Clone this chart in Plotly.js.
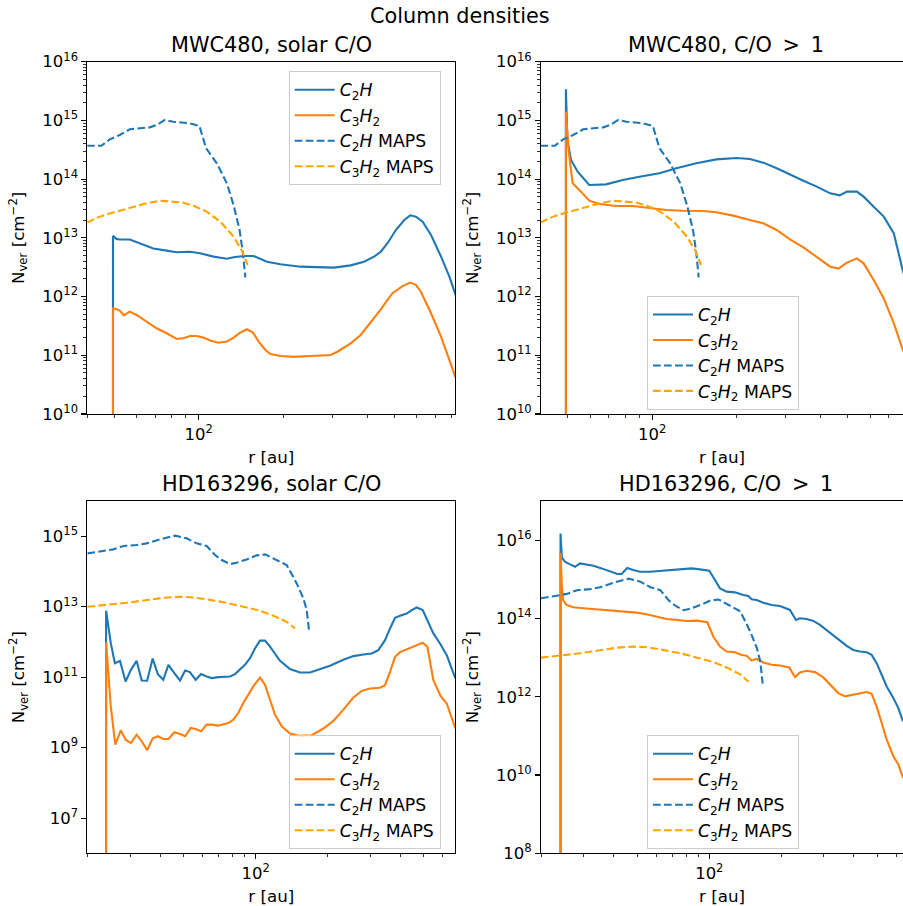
<!DOCTYPE html>
<html>
<head>
<meta charset="utf-8">
<script src="https://cdn.plot.ly/plotly-3.0.1.min.js"></script>
<style>html,body{margin:0;padding:0;background:#fff;overflow:hidden}#chart{width:903px;height:906px}</style>
</head>
<body>
<div id="chart"></div>
<script>
// ---------------- data ----------------
const panelTitles = ["MWC480, solar C/O", "MWC480, C/O \u2009&gt;\u2009 1", "HD163296, solar C/O", "HD163296, C/O \u2009&gt;\u2009 1"];
const seriesNames = ["<i>C</i><sub>2</sub><i>H</i>", "<i>C</i><sub>3</sub><i>H</i><sub>2</sub>", "<i>C</i><sub>2</sub><i>H</i> MAPS", "<i>C</i><sub>3</sub><i>H</i><sub>2</sub> MAPS"];

// MAPS observations, MWC480
const mwcMapsC2H_r = [39.9, 44.9, 48.1, 52.2, 56.7, 61.6, 66.9, 70.7, 75.7, 81.1, 86.9, 93.1, 100.6, 106.2, 116, 126, 133.1, 139.9, 143.8, 146.6];
const mwcMapsC2H_N = [3.7e14, 3.7e14, 4.76e14, 5.64e14, 7.05e14, 7.33e14, 7.62e14, 8.35e14, 1.02e15, 9.5e14, 9.27e14, 8.9e14, 8.03e14, 3.35e14, 1.86e14, 8.5e13, 3.63e13, 1.36e13, 5.46e12, 2.13e12];
const mwcMapsC3H2_r = [39.9, 44.3, 50.8, 58.3, 65.1, 72.7, 78.9, 88.1, 95.7, 106.8, 119.3, 133.1, 142.6, 149.4];
const mwcMapsC3H2_N = [1.82e13, 2.3e13, 2.8e13, 3.4e13, 3.87e13, 4.3e13, 4.13e13, 3.97e13, 3.53e13, 2.8e13, 1.89e13, 1.05e13, 6.05e12, 3.45e12];

// MWC480 solar C/O model
const mwcSolarC2H_r = [49.4, 49.4, 50.8, 52.2, 56.7, 61.6, 68.8, 76.8, 83.4, 93.1, 101.1, 112.9, 126, 133.1, 144.6, 157, 163.6, 175.3, 195.7, 230.8, 304, 348.7, 389, 422.7, 446.7, 472, 505.6, 541.7, 569, 596.4, 630, 675, 733, 785, 831.8];
const mwcSolarC2H_N = [1e3, 1.08e13, 9.6e12, 9.4e12, 9.4e12, 8.1e12, 6.6e12, 6.05e12, 5.7e12, 5.8e12, 5.46e12, 4.79e12, 4.42e12, 4.66e12, 4.91e12, 4.91e12, 4.48e12, 3.93e12, 3.54e12, 3.23e12, 3.11e12, 3.4e12, 3.93e12, 4.79e12, 5.8e12, 8.1e12, 1.36e13, 2.01e13, 2.42e13, 2.3e13, 1.89e13, 1.12e13, 4.79e12, 2.18e12, 9.7e11];
const mwcSolarC3H2_r = [49.4, 49.4, 50.8, 52.2, 54, 56.7, 60, 65.1, 70.7, 76.8, 83.4, 88.1, 93.1, 98.4, 103.9, 109.8, 117.6, 126, 133.1, 140.6, 148.6, 156.2, 163.6, 173, 180.2, 195.7, 218.4, 250.6, 295.8, 312.5, 348.7, 378.6, 411.3, 446.7, 472, 492, 534.2, 569, 596.4, 621, 675, 733, 831.8];
const mwcSolarC3H2_N = [1e3, 6.3e11, 6.07e11, 5.77e11, 4.8e11, 5.54e11, 4.86e11, 3.74e11, 2.88e11, 2.37e11, 1.9e11, 1.95e11, 2.13e11, 2.13e11, 2.0e11, 1.78e11, 1.64e11, 1.71e11, 2.0e11, 2.43e11, 2.77e11, 2.43e11, 1.71e11, 1.23e11, 1.05e11, 9.75e10, 9.4e10, 9.75e10, 1.01e11, 1.15e11, 1.6e11, 2.22e11, 3.6e11, 6.07e11, 8.75e11, 1.14e12, 1.51e12, 1.73e12, 1.58e12, 1.21e12, 5.2e11, 2.08e11, 3.8e10];

// MWC480 C/O > 1 model
const mwcHighC2H_r = [49.2, 49.2, 49.8, 51.3, 54.2, 59.6, 68.4, 78.5, 90.1, 106.2, 121.9, 143.8, 169.6, 200, 223.3, 249.3, 278.3, 310.6, 346.7, 387, 432.3, 467, 495.8, 538.5, 569, 618, 671.4, 729.4, 789.3];
const mwcHighC2H_N = [1e3, 3.38e15, 4.64e14, 2.12e14, 1.34e14, 7.94e13, 8.15e13, 9.67e13, 1.1e14, 1.26e14, 1.53e14, 1.86e14, 2.17e14, 2.29e14, 2.2e14, 1.91e14, 1.53e14, 1.18e14, 9.4e13, 7.45e13, 5.73e13, 5.3e13, 6.12e13, 6.12e13, 5.03e13, 3.4e13, 2.3e13, 1.19e13, 2.49e12];
const mwcHighC3H2_r = [49.2, 49.2, 50.3, 52, 55.7, 59.6, 64.8, 74.3, 85.3, 97.8, 112.2, 128.8, 151.9, 169.6, 194.6, 223.3, 249.3, 278.3, 310.6, 346.7, 387, 432.3, 463.1, 495.8, 538.5, 569, 618, 671.4, 729.4, 789.3];
const mwcHighC3H2_N = [1e3, 1.41e15, 3.13e14, 8.5e13, 6.12e13, 4.3e13, 3.77e13, 3.49e13, 3.49e13, 3.27e13, 2.98e13, 2.9e13, 2.87e13, 2.72e13, 2.39e13, 2.01e13, 1.77e13, 1.36e13, 9.44e12, 6.9e12, 4.79e12, 3.23e12, 2.99e12, 3.78e12, 4.48e12, 3.68e12, 1.92e12, 9.3e11, 3.5e11, 1.15e11];

// MAPS observations, HD163296
const hdMapsC2H_r = [19.9, 22.5, 25.5, 28.1, 31.9, 35.1, 39.9, 46.1, 51.6, 56.8, 62.5, 67.7, 72.2, 78.2, 83.3, 91.7, 101, 109.4, 114.7, 122.3, 134.6, 148.2, 158, 163.1, 166.8];
const hdMapsC2H_N = [3.26e14, 3.64e14, 4.24e14, 5.27e14, 5.62e14, 6.27e14, 8.15e14, 1.04e15, 8.7e14, 6.27e14, 5.27e14, 2.92e14, 2.11e14, 1.62e14, 1.77e14, 2.2e14, 2.86e14, 3.05e14, 2.62e14, 2.11e14, 1.52e14, 4.58e13, 1.72e13, 8.0e12, 2.16e12];
const hdMapsC3H2_r = [19.9, 23.9, 29, 35.1, 41.2, 48.4, 55, 62.5, 75.7, 91.7, 104.3, 118.5, 134.6, 145.8];
const hdMapsC3H2_N = [9.95e12, 1.11e13, 1.29e13, 1.54e13, 1.79e13, 1.91e13, 1.83e13, 1.61e13, 1.29e13, 9.5e12, 7.66e12, 5.52e12, 3.73e12, 2.41e12];

// HD163296 solar C/O model
const hdSolarC2H_r = [23.8, 23.8, 24.9, 25.9, 27.2, 28.7, 30.2, 31.9, 33.5, 35.3, 37.2, 39.1, 41.2, 43.3, 45.8, 48.4, 50.8, 53.2, 56.2, 59.2, 62.5, 65.6, 69.9, 74.5, 78.2, 82, 86, 90.2, 94.7, 99.4, 104.2, 109.3, 114.7, 120.3, 126.3, 139, 153, 168.4, 185.4, 204, 231.9, 255.3, 281, 304.3, 324.3, 345.9, 362.9, 380.7, 399.5, 425.9, 446.7, 468.6, 496.4, 524.2, 550, 586.1, 625.2, 679.2];
const hdSolarC2H_N = [1e2, 7.7e12, 9.2e11, 2.49e11, 2.9e11, 7.5e10, 1.61e11, 2.9e11, 8.05e10, 7.9e10, 3.37e11, 1.22e11, 8.4e10, 2.23e11, 1.3e11, 8.05e10, 1.55e11, 1.39e11, 8.4e10, 1.22e11, 1.04e11, 9.4e10, 1.0e11, 1.04e11, 1.04e11, 1.22e11, 1.61e11, 2.23e11, 3.45e11, 6.6e11, 1.09e12, 1.09e12, 7.4e11, 4.77e11, 2.91e11, 1.69e11, 1.36e11, 1.36e11, 1.65e11, 2.1e11, 3.1e11, 3.95e11, 4.4e11, 4.7e11, 5.85e11, 1.12e12, 2.41e12, 4.85e12, 5.5e12, 6.4e12, 8.0e12, 9.5e12, 8.0e12, 3.73e12, 1.74e12, 9.0e11, 4.2e11, 9.2e10];
const hdSolarC3H2_r = [23.8, 23.8, 24.9, 26, 27.4, 28.7, 30.2, 31.9, 33.5, 35.3, 37.2, 39.1, 41.2, 43.3, 45.8, 48.4, 50.8, 53.6, 56.2, 59.2, 62.5, 65.6, 69.5, 73.3, 76.9, 80.7, 84.6, 88.8, 93.1, 97.7, 104.2, 109.3, 114.7, 120.3, 128.3, 139, 153, 171.2, 191.4, 210.7, 231.9, 255.3, 276.6, 299.6, 329.6, 345.9, 362.9, 380.7, 399.5, 425.9, 461.2, 496.4, 519.2, 550, 590, 625.2, 679.2];
const hdSolarC3H2_N = [1e2, 9.6e11, 1.48e10, 1.22e9, 3.1e9, 1.68e9, 1.35e9, 2.33e9, 1.51e9, 8.4e8, 1.8e9, 2.1e9, 1.76e9, 1.76e9, 2.72e9, 2.44e9, 2.1e9, 3.6e9, 3.38e9, 2.9e9, 4.48e9, 4.48e9, 4.2e9, 4.68e9, 4.99e9, 6.2e9, 9.6e9, 1.84e10, 3.16e10, 5.45e10, 9.8e10, 6.07e10, 2.28e10, 8.6e9, 4.05e9, 2.51e9, 2.15e9, 2.25e9, 3.48e9, 5.74e9, 1.2e10, 2.64e10, 4.09e10, 4.76e10, 4.98e10, 5.93e10, 1.42e11, 3.78e11, 5.13e11, 6.1e11, 7.6e11, 9.45e11, 7.27e11, 8.2e10, 2.88e10, 1.79e10, 3.48e9];

// HD163296 C/O > 1 model
const hdHighC2H_r = [24.0, 24.0, 24.3, 25.0, 26.3, 27.6, 28.9, 30.8, 32.9, 35.6, 38.6, 41.4, 43.1, 45.5, 48.2, 51.4, 56.6, 62.3, 70.8, 77.9, 84.4, 91.4, 100, 105.6, 110.8, 118.1, 127.9, 138.6, 145.4, 150.1, 157.5, 167.9, 181.9, 197, 206.7, 216.8, 229.6, 238.6, 254.4, 271.3, 289.1, 308.3, 328.6, 350.4, 373.4, 398.1, 424.4, 452.4, 474.6, 498.1, 522.6, 548.3, 584.5, 613.2, 641.2];
const hdHighC2H_N = [1e3, 1.48e16, 3.62e15, 2.81e15, 2.4e15, 2.09e15, 2.54e15, 2.4e15, 2.22e15, 1.9e15, 1.56e15, 1.36e15, 1.36e15, 1.94e15, 1.72e15, 1.56e15, 1.56e15, 1.62e15, 1.72e15, 1.82e15, 1.9e15, 1.79e15, 1.65e15, 9.57e14, 5.87e14, 4.83e14, 4.64e14, 3.97e14, 3.74e14, 3.08e14, 2.96e14, 2.53e14, 2.21e14, 2.08e14, 1.89e14, 1.65e14, 9.16e13, 1.01e14, 9.7e13, 8.63e13, 6.83e13, 5.1e13, 3.8e13, 2.72e13, 1.99e13, 1.57e13, 1.43e13, 1.37e13, 1.17e13, 7.2e12, 3.64e12, 1.83e12, 9.25e11, 5.14e11, 2.35e11];
const hdHighC3H2_r = [24.0, 24.0, 24.3, 24.6, 25.4, 27.1, 29.9, 33.9, 38.6, 43.8, 49.8, 54.8, 60.3, 66.4, 73.1, 80.4, 88.6, 98.1, 103.9, 110.8, 118.1, 127.9, 136.4, 143.1, 150.1, 157.5, 167.9, 181.9, 197, 215.4, 227.5, 238.6, 254.4, 275.6, 298.5, 323.4, 344.7, 367.5, 398.1, 424.4, 452.4, 474.6, 498.1, 522.6, 548.3, 584.5, 613.2, 641.2];
const hdHighC3H2_N = [1e3, 4.75e15, 6.47e14, 2.96e14, 2.21e14, 1.92e14, 1.82e14, 1.71e14, 1.65e14, 1.55e14, 1.41e14, 1.28e14, 1.11e14, 9.7e13, 9.16e13, 8.63e13, 8.8e13, 7.98e13, 3.45e13, 1.92e13, 1.43e13, 1.37e13, 1.17e13, 1.11e13, 8.43e12, 9.3e12, 7.5e12, 6.53e12, 6.28e12, 5.59e12, 3.17e12, 4.17e12, 4.59e12, 4.25e12, 3.11e12, 1.83e12, 1.24e12, 1.02e12, 1.12e12, 1.24e12, 1.32e12, 1.19e12, 5.67e11, 2.13e11, 8.02e10, 3.02e10, 1.85e10, 8.47e9];

// ---------------- layout helpers ----------------
const W = 903, H = 906;
const FONT = "DejaVu Sans, Liberation Sans, sans-serif";
const BLUE = "#1f77b4", ORANGE = "#ff7f0e", MAPSORANGE = "#ffa500";
const DASH = "7.7px,3.3px";
const fx = p => p / W;
const fy = p => 1 - p / H;

function minorLog(d0, d1) {
  const v = [];
  for (let d = d0; d < d1; d++) for (let k = 2; k <= 9; k++) v.push(k * Math.pow(10, d));
  return v;
}
function majorLog(exps) {
  return { tickvals: exps.map(e => Math.pow(10, e)), ticktext: exps.map(e => "10<sup>" + e + "</sup>") };
}
function range(a, b, s) { const r = []; for (let v = a; v <= b; v += s) r.push(v); return r; }

const panels = [
  { sets: [[mwcSolarC2H_r, mwcSolarC2H_N], [mwcSolarC3H2_r, mwcSolarC3H2_N], [mwcMapsC2H_r, mwcMapsC2H_N], [mwcMapsC3H2_r, mwcMapsC3H2_N]] },
  { sets: [[mwcHighC2H_r, mwcHighC2H_N], [mwcHighC3H2_r, mwcHighC3H2_N], [mwcMapsC2H_r, mwcMapsC2H_N], [mwcMapsC3H2_r, mwcMapsC3H2_N]] },
  { sets: [[hdSolarC2H_r, hdSolarC2H_N], [hdSolarC3H2_r, hdSolarC3H2_N], [hdMapsC2H_r, hdMapsC2H_N], [hdMapsC3H2_r, hdMapsC3H2_N]] },
  { sets: [[hdHighC2H_r, hdHighC2H_N], [hdHighC3H2_r, hdHighC3H2_N], [hdMapsC2H_r, hdMapsC2H_N], [hdMapsC3H2_r, hdMapsC3H2_N]] }
];
const styles = [
  { color: BLUE, dash: "solid" },
  { color: ORANGE, dash: "solid" },
  { color: BLUE, dash: DASH },
  { color: MAPSORANGE, dash: DASH }
];
const legendIds = ["legend", "legend2", "legend3", "legend4"];

const traces = [];
panels.forEach((p, i) => {
  const suf = i === 0 ? "" : String(i + 1);
  p.sets.forEach((s, j) => {
    traces.push({
      type: "scatter", mode: "lines",
      x: s[0], y: s[1],
      xaxis: "x" + suf, yaxis: "y" + suf,
      name: seriesNames[j],
      legend: legendIds[i],
      legendgroup: "g" + i + "_" + j,
      line: { color: styles[j].color, dash: styles[j].dash, width: 2.1 },
      hoverinfo: "skip"
    });
  });
});

// panel geometry (px)
const LEFT = [87.3, 455.3], RIGHT = [541, 903];
const TOP = [61.7, 414], BOT = [501, 853.3];

const tickFont = { family: FONT, size: 16.5, color: "#000" };
const titleFont = { family: FONT, size: 16.7, color: "#000" };

function xAxis(dom, anchor, rng, mirror) {
  return {
    type: "log", domain: [fx(dom[0]), fx(dom[1])], anchor: anchor, range: rng,
    showline: true, linecolor: "#000", linewidth: 1.1, mirror: mirror,
    ticks: "outside", ticklen: 4.9, tickwidth: 1.1, tickcolor: "#000",
    tickmode: "array", tickvals: [100], ticktext: ["10<sup>2</sup>"],
    minor: { tickmode: "array", tickvals: range(20, 90, 10).concat(range(200, 900, 100)), ticks: "outside", ticklen: 2.8, tickwidth: 0.8, tickcolor: "#000", showgrid: false },
    showgrid: false, zeroline: false, tickfont: tickFont,
    title: { text: "r [au]", font: titleFont, standoff: 8 }
  };
}
function yAxis(dom, anchor, rng, exps, minor, mirror) {
  const mj = majorLog(exps);
  const ax = {
    type: "log", domain: [fy(dom[1]), fy(dom[0])], anchor: anchor, range: rng,
    showline: true, linecolor: "#000", linewidth: 1.1, mirror: mirror,
    ticks: "outside", ticklen: 4.9, tickwidth: 1.1, tickcolor: "#000",
    tickmode: "array", tickvals: mj.tickvals, ticktext: mj.ticktext,
    showgrid: false, zeroline: false, tickfont: tickFont,
    title: { text: "N<sub>ver</sub> [cm<sup>\u22122</sup>]", font: titleFont, standoff: 13 }
  };
  if (minor) ax.minor = { tickmode: "array", tickvals: minor, ticks: "outside", ticklen: 2.8, tickwidth: 0.8, tickcolor: "#000", showgrid: false };
  return ax;
}

const legendBase = {
  xanchor: "left", yanchor: "top",
  bgcolor: "rgba(255,255,255,0.8)", bordercolor: "#cccccc", borderwidth: 1,
  font: { family: FONT, size: 17.3, color: "#000" },
  tracegroupgap: 1.2, itemwidth: 40, traceorder: "normal"
};

const annotations = [
  { text: "Column densities", x: fx(459.5), y: fy(30), xref: "paper", yref: "paper", xanchor: "center", yanchor: "bottom", showarrow: false, font: { family: FONT, size: 20.8, color: "#000" } }
];
const titlePos = [[(LEFT[0] + LEFT[1]) / 2, TOP[0]], [(RIGHT[0] + RIGHT[0] + 369) / 2, TOP[0]], [(LEFT[0] + LEFT[1]) / 2, BOT[0]], [(RIGHT[0] + RIGHT[0] + 369) / 2, BOT[0]]];
panelTitles.forEach((t, i) => {
  annotations.push({ text: t, x: fx(titlePos[i][0]), y: fy(titlePos[i][1]), xref: "paper", yref: "paper", xanchor: "center", yanchor: "bottom", yshift: 3, showarrow: false, font: { family: FONT, size: 20.8, color: "#000" } });
});

const layout = {
  width: W, height: H,
  margin: { l: 0, r: 0, t: 0, b: 0 },
  paper_bgcolor: "#fff", plot_bgcolor: "#fff",
  showlegend: true, hovermode: false,
  font: { family: FONT, color: "#000" },
  xaxis: xAxis(LEFT, "y", [1.602, 2.916], true),
  yaxis: yAxis(TOP, "x", [10, 16], range(10, 16, 1), minorLog(10, 16), true),
  xaxis2: xAxis(RIGHT, "y2", [1.603, 2.8957], true),
  yaxis2: yAxis(TOP, "x2", [10, 16], range(10, 16, 1), minorLog(10, 16), false),
  xaxis3: xAxis(LEFT, "y3", [1.2983, 2.8317], true),
  yaxis3: yAxis(BOT, "x3", [6, 16], [7, 9, 11, 13, 15], null, true),
  xaxis4: xAxis(RIGHT, "y4", [1.2988, 2.807], true),
  yaxis4: yAxis(BOT, "x4", [8, 17], [8, 10, 12, 14, 16], null, false),
  legend: Object.assign({}, legendBase, { x: fx(288.7), y: fy(71) }),
  legend2: Object.assign({}, legendBase, { x: fx(647), y: fy(295.7) }),
  legend3: Object.assign({}, legendBase, { x: fx(288.7), y: fy(735) }),
  legend4: Object.assign({}, legendBase, { x: fx(647), y: fy(735) }),
  annotations: annotations
};

Plotly.newPlot("chart", traces, layout, { staticPlot: true, displayModeBar: false });
</script>
</body>
</html>
